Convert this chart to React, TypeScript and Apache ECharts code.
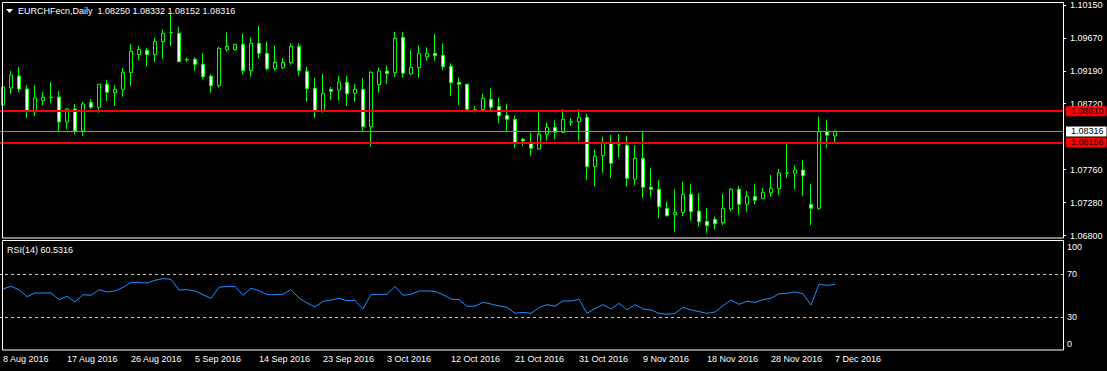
import React, { useEffect, useRef } from 'react';
import * as echarts from 'echarts';

const symbolName = 'EURCHFecn';
const periodName = 'Daily';

// [open, close, low, high]
const candles: number[][] = [
  [1.08700, 1.08962, 1.08627, 1.09064],
  [1.08948, 1.09136, 1.08860, 1.09194],
  [1.09122, 1.08933, 1.08889, 1.09253],
  [1.08933, 1.08612, 1.08511, 1.08991],
  [1.08598, 1.08802, 1.08540, 1.08991],
  [1.08763, 1.08812, 1.08700, 1.08889],
  [1.08810, 1.08814, 1.08725, 1.09035],
  [1.08817, 1.08453, 1.08322, 1.08904],
  [1.08453, 1.08642, 1.08351, 1.08656],
  [1.08642, 1.08322, 1.08279, 1.08715],
  [1.08322, 1.08715, 1.08250, 1.08744],
  [1.08740, 1.08667, 1.08642, 1.08788],
  [1.08667, 1.09002, 1.08588, 1.09006],
  [1.09002, 1.08885, 1.08758, 1.09064],
  [1.08879, 1.08928, 1.08686, 1.08991],
  [1.08928, 1.09176, 1.08821, 1.09238],
  [1.09170, 1.09481, 1.08977, 1.09587],
  [1.09432, 1.09510, 1.09355, 1.09558],
  [1.09496, 1.09432, 1.09257, 1.09529],
  [1.09432, 1.09626, 1.09325, 1.09674],
  [1.09621, 1.09743, 1.09369, 1.09801],
  [1.09750, 1.09754, 1.09558, 1.10023],
  [1.09743, 1.09330, 1.09325, 1.09834],
  [1.09357, 1.09361, 1.09325, 1.09391],
  [1.09365, 1.09292, 1.09199, 1.09398],
  [1.09292, 1.09112, 1.09078, 1.09456],
  [1.09118, 1.08981, 1.08879, 1.09147],
  [1.08981, 1.09525, 1.08952, 1.09548],
  [1.09504, 1.09554, 1.09475, 1.09757],
  [1.09504, 1.09583, 1.09490, 1.09590],
  [1.09583, 1.09199, 1.09147, 1.09743],
  [1.09199, 1.09597, 1.09112, 1.09685],
  [1.09597, 1.09452, 1.09379, 1.09849],
  [1.09452, 1.09228, 1.09199, 1.09626],
  [1.09228, 1.09321, 1.09199, 1.09568],
  [1.09243, 1.09321, 1.09224, 1.09379],
  [1.09315, 1.09554, 1.09286, 1.09597],
  [1.09554, 1.09199, 1.09126, 1.09597],
  [1.09190, 1.08937, 1.08748, 1.09257],
  [1.08943, 1.08617, 1.08516, 1.09093],
  [1.08613, 1.08870, 1.08588, 1.09151],
  [1.08928, 1.08899, 1.08773, 1.08962],
  [1.08918, 1.09035, 1.08763, 1.09122],
  [1.09030, 1.08864, 1.08686, 1.09122],
  [1.08870, 1.08928, 1.08748, 1.09006],
  [1.08928, 1.08384, 1.08322, 1.09088],
  [1.08384, 1.09176, 1.08094, 1.09194],
  [1.08996, 1.09194, 1.08879, 1.09238],
  [1.09194, 1.09158, 1.09006, 1.09277],
  [1.09170, 1.09670, 1.09107, 1.09762],
  [1.09685, 1.09161, 1.09097, 1.09757],
  [1.09151, 1.09248, 1.09136, 1.09496],
  [1.09243, 1.09452, 1.09097, 1.09568],
  [1.09403, 1.09452, 1.09344, 1.09539],
  [1.09452, 1.09417, 1.09344, 1.09733],
  [1.09423, 1.09257, 1.09209, 1.09597],
  [1.09263, 1.09024, 1.08831, 1.09307],
  [1.09030, 1.09001, 1.08700, 1.09103],
  [1.09001, 1.08638, 1.08620, 1.09006],
  [1.08620, 1.08632, 1.08591, 1.08686],
  [1.08635, 1.08798, 1.08613, 1.08860],
  [1.08783, 1.08667, 1.08627, 1.08943],
  [1.08676, 1.08544, 1.08434, 1.08812],
  [1.08550, 1.08492, 1.08322, 1.08715],
  [1.08492, 1.08133, 1.08070, 1.08540],
  [1.08201, 1.08176, 1.08108, 1.08224],
  [1.08158, 1.08070, 1.07963, 1.08297],
  [1.08060, 1.08274, 1.08046, 1.08603],
  [1.08274, 1.08376, 1.08181, 1.08443],
  [1.08376, 1.08303, 1.08201, 1.08482],
  [1.08303, 1.08492, 1.08289, 1.08642],
  [1.08451, 1.08455, 1.08399, 1.08511],
  [1.08457, 1.08521, 1.08181, 1.08642],
  [1.08521, 1.07803, 1.07610, 1.08569],
  [1.07803, 1.07954, 1.07522, 1.08056],
  [1.07963, 1.08152, 1.07716, 1.08239],
  [1.08152, 1.07852, 1.07643, 1.08264],
  [1.08117, 1.08121, 1.07940, 1.08279],
  [1.08114, 1.07634, 1.07512, 1.08250],
  [1.07620, 1.07925, 1.07537, 1.08119],
  [1.07925, 1.07504, 1.07352, 1.08312],
  [1.07504, 1.07475, 1.07367, 1.07780],
  [1.07475, 1.07221, 1.07053, 1.07610],
  [1.07198, 1.07091, 1.07076, 1.07290],
  [1.07105, 1.07140, 1.06858, 1.07479],
  [1.07137, 1.07402, 1.07086, 1.07581],
  [1.07402, 1.07149, 1.07018, 1.07552],
  [1.07159, 1.07003, 1.06931, 1.07421],
  [1.07009, 1.06945, 1.06843, 1.07202],
  [1.07038, 1.06974, 1.06897, 1.07076],
  [1.06989, 1.07198, 1.06955, 1.07406],
  [1.07188, 1.07475, 1.07159, 1.07493],
  [1.07475, 1.07256, 1.07101, 1.07522],
  [1.07256, 1.07373, 1.07149, 1.07450],
  [1.07373, 1.07315, 1.07256, 1.07552],
  [1.07338, 1.07431, 1.07333, 1.07493],
  [1.07425, 1.07489, 1.07367, 1.07682],
  [1.07483, 1.07711, 1.07391, 1.07770],
  [1.07709, 1.07713, 1.07643, 1.08152],
  [1.07707, 1.07755, 1.07479, 1.07828],
  [1.07755, 1.07672, 1.07377, 1.07900],
  [1.07256, 1.07198, 1.06955, 1.07552],
  [1.07198, 1.08312, 1.07173, 1.08530],
  [1.08312, 1.08260, 1.08079, 1.08482],
  [1.08250, 1.08316, 1.08152, 1.08332],
];

const rsiValues: number[] = [
  56.2, 58.6, 55.5, 49.1, 52.5, 52.5, 52.5, 46.3, 49.4, 44.2,
  50.9, 50.3, 55.5, 53.4, 54.3, 57.7, 62.3, 62.3, 61.7, 64.2,
  65.7, 65.1, 55.2, 55.5, 54.3, 50.9, 47.5, 57.7, 58.6, 58.6,
  50.3, 56.8, 54.6, 50.9, 50.9, 51.2, 55.5, 47.8, 43.2, 39.5,
  44.8, 46.0, 47.5, 45.4, 45.7, 37.7, 51.2, 51.2, 51.2, 58.6,
  50.3, 51.2, 54.3, 54.3, 54.0, 50.9, 46.9, 46.3, 40.2, 40.2,
  43.8, 42.3, 40.5, 39.2, 33.7, 34.6, 33.7, 38.9, 41.7, 40.2,
  45.1, 45.1, 46.6, 33.7, 38.0, 41.7, 37.7, 42.9, 36.8, 41.7,
  37.7, 36.8, 33.7, 32.8, 33.7, 39.2, 36.8, 35.2, 33.7, 34.9,
  40.8, 45.7, 42.0, 44.8, 43.8, 46.3, 47.5, 51.8, 52.2, 53.4,
  51.8, 41.4, 60.5, 59.5, 60.5316,
];

const tickLabels: string[] = [
  '8 Aug 2016', '17 Aug 2016', '26 Aug 2016', '5 Sep 2016', '14 Sep 2016',
  '23 Sep 2016', '3 Oct 2016', '12 Oct 2016', '21 Oct 2016', '31 Oct 2016',
  '9 Nov 2016', '18 Nov 2016', '28 Nov 2016', '7 Dec 2016',
];
const barsPerTick = 8;
const shiftBars = 28;

const priceTicks: number[] = [1.068, 1.0728, 1.0776, 1.0872, 1.0919, 1.0967, 1.1015];
const priceMin = 1.06766;
const priceMax = 1.10198;
const redLevels: number[] = [1.0861, 1.08156];
const rsiTicks: number[] = [0, 30, 70, 100];
const rsiLevels: number[] = [70, 30];
const rsiPeriod = 14;

const FONT = '"Liberation Sans", Arial, sans-serif';

export default function App() {
  const ref = useRef<HTMLDivElement>(null);

  useEffect(() => {
    if (!ref.current) return;
    const chart = echarts.init(ref.current, null, { renderer: 'svg' });
    const n = candles.length;
    const cats = Array.from({ length: n + shiftBars }, (_, i) => String(i));
    const last = candles[n - 1];
    const isTick = (i: number) => i % barsPerTick === 0 && i < n;
    const txt = { color: '#ffffff', fontSize: 9, fontFamily: FONT };

    const option: any = {
      animation: false,
      backgroundColor: '#000000',
      title: [
        {
          text: `${symbolName},${periodName}  ${[last[0], last[3], last[2], last[1]].map((v) => v.toFixed(5)).join(' ')}`,
          left: 18,
          top: 6,
          padding: 0,
          textStyle: { ...txt, fontWeight: 'normal' },
        },
        {
          text: `RSI(${rsiPeriod}) ${rsiValues[n - 1].toFixed(4)}`,
          left: 7,
          top: 245.5,
          padding: 0,
          textStyle: { ...txt, fontWeight: 'normal' },
        },
      ],
      grid: [
        { left: -1, top: 2, width: 1064, height: 236, show: false, outerBoundsMode: 'none', containLabel: false },
        { left: -1, top: 241.5, width: 1064, height: 108.3, show: false, outerBoundsMode: 'none', containLabel: false },
      ],
      xAxis: [
        {
          type: 'category', gridIndex: 0, data: cats, boundaryGap: true,
          axisLine: { show: false }, axisTick: { show: false }, axisLabel: { show: false }, splitLine: { show: false },
        },
        {
          type: 'category', gridIndex: 1, data: cats, boundaryGap: true,
          axisLine: { show: false }, axisTick: { show: false }, splitLine: { show: false },
          axisLabel: {
            ...txt,
            interval: (i: number) => isTick(i),
            formatter: (_v: string, i: number) => tickLabels[Math.round(i / barsPerTick)] ?? '',
            align: 'left',
            margin: 5,
            hideOverlap: false,
          },
        },
      ],
      yAxis: [
        {
          type: 'value', gridIndex: 0, position: 'right', min: priceMin, max: priceMax, scale: true,
          splitLine: { show: false }, axisLine: { show: false },
          axisTick: { show: true, customValues: priceTicks, length: 3, lineStyle: { color: '#ffffff' } },
          axisLabel: { ...txt, customValues: priceTicks, formatter: (v: number) => v.toFixed(5), margin: 7 },
        },
        {
          type: 'value', gridIndex: 1, position: 'right', min: 0, max: 100,
          splitLine: { show: false }, axisLine: { show: false }, axisTick: { show: false },
          axisLabel: {
            ...txt,
            customValues: rsiTicks,
            margin: 4,
            formatter: (v: number) => (v === 100 ? '{t|100}' : v === 0 ? '{b|0}' : String(v)),
            rich: {
              t: { ...txt, padding: [11, 0, 0, 0] },
              b: { ...txt, padding: [0, 0, 12, 0] },
            },
          },
        },
      ],
      graphic: [
        { type: 'rect', silent: true, z: 100, shape: { x: 2.5, y: 2.5, width: 1061, height: 235.5 }, style: { fill: null, stroke: '#ffffff', lineWidth: 1 } },
        { type: 'rect', silent: true, z: 100, shape: { x: 2.5, y: 240.5, width: 1061, height: 109.5 }, style: { fill: null, stroke: '#ffffff', lineWidth: 1 } },
        { type: 'polygon', silent: true, z: 100, shape: { points: [[6, 9], [13, 9], [9.5, 13]] }, style: { fill: '#ffffff' } },
      ],
      series: [
        {
          type: 'candlestick',
          xAxisIndex: 0,
          yAxisIndex: 0,
          data: candles,
          barWidth: 4,
          itemStyle: {
            color: '#000000',
            color0: '#ffffff',
            borderColor: '#00ff00',
            borderColor0: '#00ff00',
            borderColorDoji: '#00ff00',
            borderWidth: 1,
          },
          markLine: {
            silent: true,
            precision: 5,
            symbol: ['none', 'none'],
            label: {
              show: true,
              position: 'end',
              distance: 3,
              fontSize: 9,
              fontFamily: FONT,
              lineHeight: 10,
              padding: [0, 3, 0, 5],
              formatter: (p: any) => Number(p.value).toFixed(5),
            },
            data: [
              ...redLevels.map((v) => ({
                yAxis: v,
                lineStyle: { color: '#ff0000', width: 2, type: 'solid' },
                label: { backgroundColor: '#ff0000', color: '#000000' },
              })),
              {
                yAxis: last[1],
                lineStyle: { color: '#8c8c8c', width: 1, type: 'solid' },
                label: { backgroundColor: '#ffffff', color: '#000000' },
              },
            ],
          },
        },
        {
          type: 'line',
          xAxisIndex: 1,
          yAxisIndex: 1,
          data: rsiValues,
          showSymbol: false,
          symbol: 'none',
          lineStyle: { color: '#1e90ff', width: 1 },
          itemStyle: { color: '#1e90ff' },
          markLine: {
            silent: true,
            symbol: ['none', 'none'],
            label: { show: false },
            lineStyle: { color: '#c8c8c8', type: [3, 3], width: 1 },
            data: rsiLevels.map((v) => ({ yAxis: v })),
          },
        },
      ],
    };

    chart.setOption(option);
    return () => chart.dispose();
  }, []);

  return (
    <div
      ref={ref}
      style={{ position: 'fixed', left: 0, top: 0, width: 1107, height: 371, background: '#000000' }}
    />
  );
}
